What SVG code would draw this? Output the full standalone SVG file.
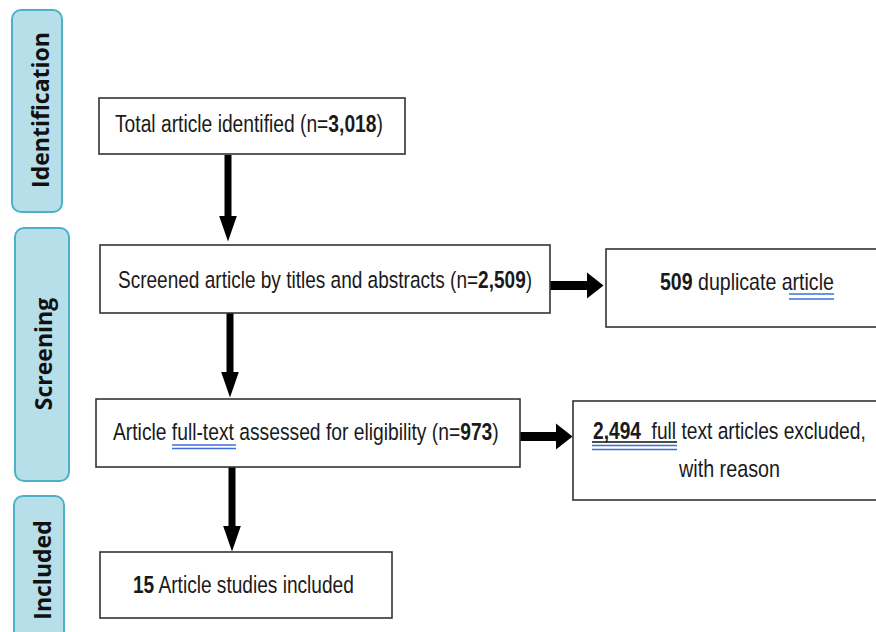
<svg xmlns="http://www.w3.org/2000/svg" width="876" height="632" viewBox="0 0 876 632">
<style>
.stage{fill:#b7dfe9;stroke:#4eb0c7;stroke-width:2}
.stxt{font-family:"Open Sans","DejaVu Sans",sans-serif;font-weight:bold;font-size:23px;fill:#111;text-anchor:middle}
.box{fill:#fff;stroke:#333;stroke-width:1.6}
.t{font-family:"Liberation Sans",Arial,sans-serif;font-size:23.5px;fill:#1a1a1a}
.b{font-weight:bold}
.ul{stroke:#3d6fdc;stroke-width:1.4}
.conn{stroke:#000;fill:none}
</style>
<defs>
<marker id="hv" markerUnits="userSpaceOnUse" viewBox="0 0 26 18" markerWidth="26" markerHeight="18" refX="0.5" refY="9" orient="auto">
<path d="M0,0 L26,9 L0,18 z" fill="#000"/>
</marker>
<marker id="hh" markerUnits="userSpaceOnUse" viewBox="0 0 17 27" markerWidth="17" markerHeight="27" refX="0.5" refY="13.5" orient="auto">
<path d="M0,0 L17,13.5 L0,27 z" fill="#000"/>
</marker>
</defs>
<rect width="876" height="632" fill="#fff"/>

<g id="stage-identification">
<rect class="stage" x="12" y="10" width="50" height="202" rx="9"/>
<text class="stxt" transform="translate(49,110) rotate(-90)">Identification</text>
</g>
<g id="stage-screening">
<rect class="stage" x="15" y="228" width="54" height="253" rx="9"/>
<text class="stxt" transform="translate(52,354) rotate(-90)">Screening</text>
</g>
<g id="stage-included">
<rect class="stage" x="14" y="496" width="50" height="150" rx="9"/>
<text class="stxt" transform="translate(51,570) rotate(-90)">Included</text>
</g>

<g id="connectors">
<line class="conn" stroke-width="7" x1="228" y1="155" x2="228" y2="216" marker-end="url(#hv)"/>
<line class="conn" stroke-width="7" x1="230" y1="313" x2="230" y2="372" marker-end="url(#hv)"/>
<line class="conn" stroke-width="7" x1="232" y1="467" x2="232" y2="526" marker-end="url(#hv)"/>
<line class="conn" stroke-width="9" x1="550" y1="285.5" x2="587" y2="285.5" marker-end="url(#hh)"/>
<line class="conn" stroke-width="9" x1="520" y1="436.5" x2="556" y2="436.5" marker-end="url(#hh)"/>
</g>

<g id="node-total">
<rect class="box" x="99" y="98" width="306" height="56"/>
<text class="t" transform="translate(115,132) scale(0.819,1)">Total article identified (n=<tspan class="b">3,018</tspan>)</text>
</g>
<g id="node-screened">
<rect class="box" x="100" y="245" width="450" height="68"/>
<text class="t" transform="translate(118,288) scale(0.81,1)">Screened article by titles and abstracts (n=<tspan class="b">2,509</tspan>)</text>
</g>
<g id="node-duplicate">
<rect class="box" x="606" y="249" width="276" height="78"/>
<text class="t" transform="translate(660,290) scale(0.815,1)" style="font-size:24px"><tspan class="b">509</tspan> duplicate article</text>
<line class="ul" x1="789" y1="294" x2="834" y2="294"/>
<line class="ul" x1="789" y1="299" x2="834" y2="299"/>
</g>
<g id="node-fulltext">
<rect class="box" x="96" y="399" width="424" height="68"/>
<text class="t" transform="translate(113,440) scale(0.82,1)">Article full-text assessed for eligibility (n=<tspan class="b">973</tspan>)</text>
<line class="ul" x1="172" y1="445" x2="236" y2="445"/>
<line class="ul" x1="172" y1="448.5" x2="236" y2="448.5"/>
</g>
<g id="node-excluded">
<rect class="box" x="573" y="401" width="310" height="99"/>
<text class="t" transform="translate(593,439) scale(0.816,1)" xml:space="preserve"><tspan class="b">2,494</tspan>  full text articles excluded,</text>
<line stroke="#111" stroke-width="1.4" x1="592" y1="442" x2="677" y2="442"/>
<line class="ul" x1="592" y1="445.5" x2="677" y2="445.5"/>
<line class="ul" x1="592" y1="449.5" x2="677" y2="449.5"/>
<text class="t" transform="translate(679,477) scale(0.823,1)" style="font-size:24px">with reason</text>
</g>
<g id="node-included">
<rect class="box" x="100" y="552" width="292" height="66"/>
<text class="t" transform="translate(133,593) scale(0.813,1)"><tspan class="b">15</tspan> Article studies included</text>
</g>
</svg>
